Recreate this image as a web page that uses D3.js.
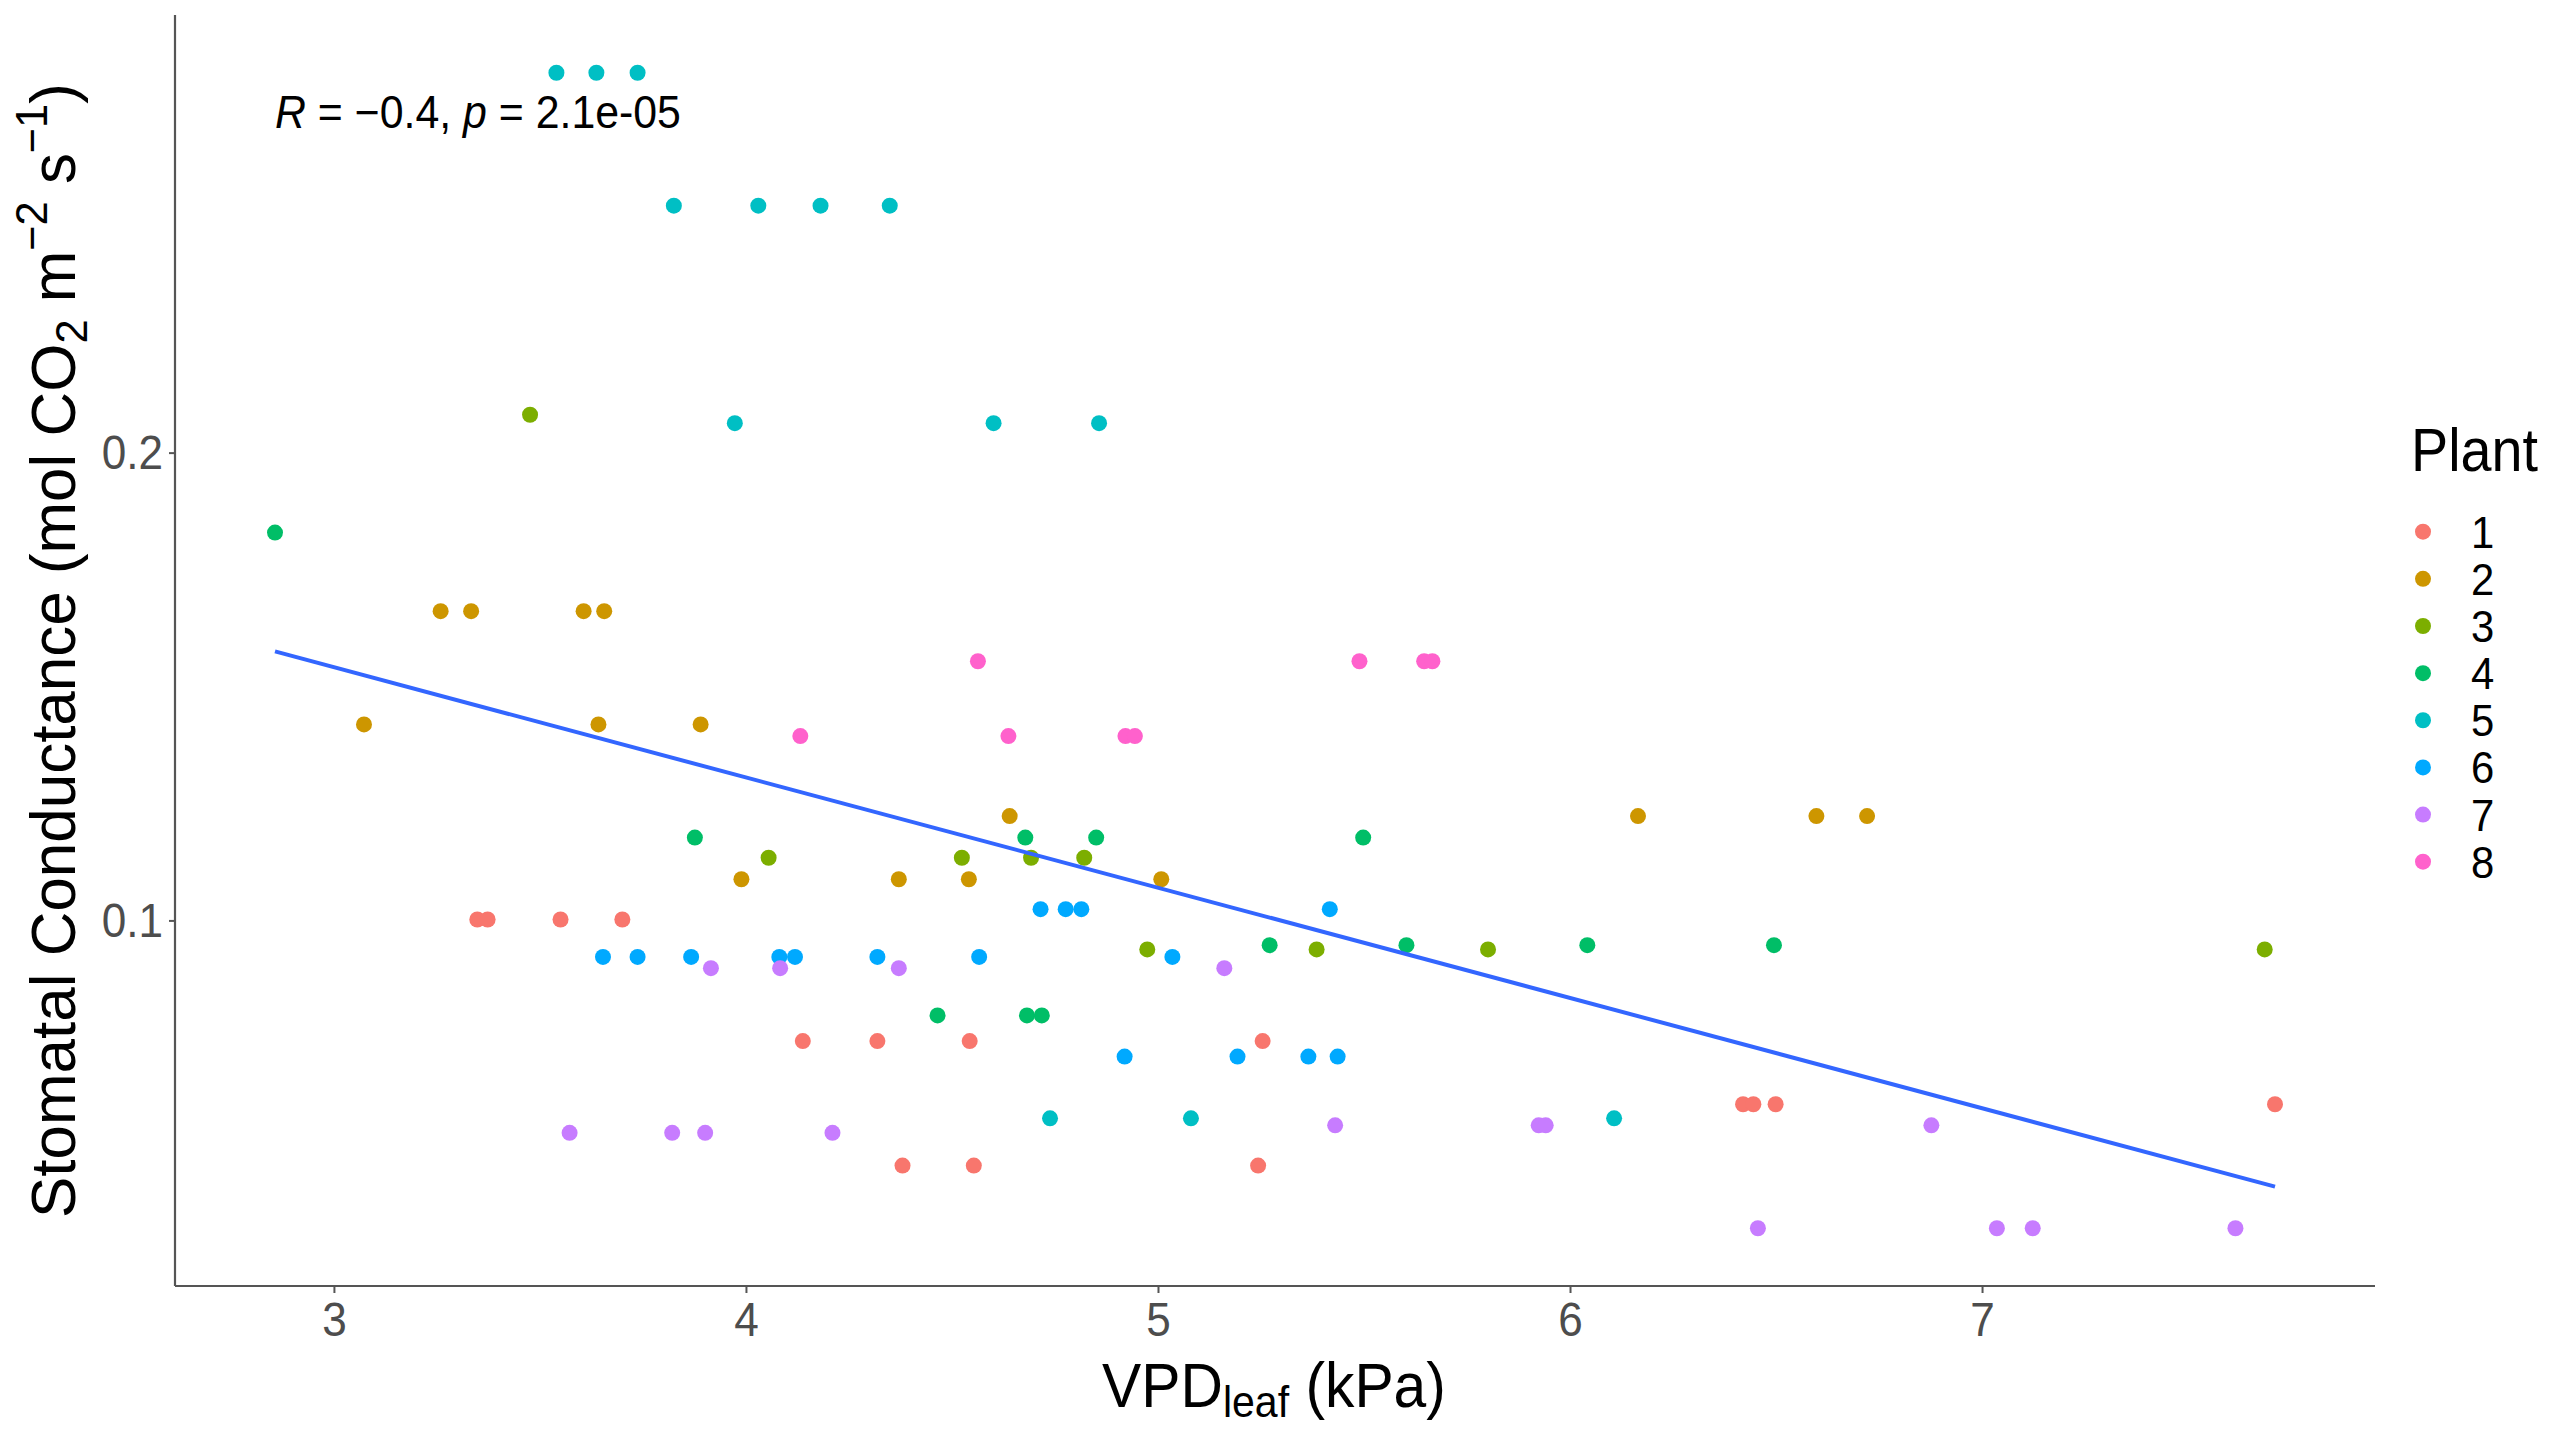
<!DOCTYPE html>
<html>
<head>
<meta charset="utf-8">
<script src="https://cdn.jsdelivr.net/npm/d3@7"></script>
<style>
  body { margin: 0; background: #ffffff; }
  text { font-family: "Liberation Sans", Arial, sans-serif; }
</style>
</head>
<body>
<script>
// data ---------------------------------------------------------------------
var plants = ["1", "2", "3", "4", "5", "6", "7", "8"];
var plantColors = ["#F8766D", "#CD9600", "#7CAE00", "#00BE67", "#00BFC4", "#00A9FF", "#C77CFF", "#FF61CC"];

// plant id of each point
var plantOf = [
  "1","1","1","1","1","1","1","1","1","1","1","1","1","1","1",
  "2","2","2","2","2","2","2","2","2","2","2","2","2","2","2",
  "3","3","3","3","3","3","3","3","3",
  "4","4","4","4","4","4","4","4","4","4","4","4",
  "5","5","5","5","5","5","5","5","5","5","5","5","5",
  "6","6","6","6","6","6","6","6","6","6","6","6","6","6","6","6",
  "7","7","7","7","7","7","7","7","7","7","7","7","7","7","7","7",
  "8","8","8","8","8","8","8","8"
];
// VPD leaf (kPa)
var vpd = [
  3.348, 3.373, 3.550, 3.700, 4.138, 4.319, 4.543, 5.254, 4.380, 4.553, 5.243, 6.420, 6.445, 6.499, 7.711,
  3.259, 3.333, 3.606, 3.656, 3.073, 3.642, 3.890, 3.989, 4.371, 4.541, 5.008, 4.640, 6.165, 6.598, 6.721,
  3.476, 4.055, 4.524, 4.692, 4.821, 4.974, 5.385, 5.801, 7.686,
  2.857, 3.876, 4.678, 4.850, 5.498, 5.271, 5.603, 6.042, 6.495, 4.465, 4.682, 4.718,
  3.540, 3.637, 3.737, 3.825, 4.030, 4.181, 4.349, 3.973, 4.601, 4.857, 4.738, 5.080, 6.107,
  3.653, 3.737, 3.867, 4.081, 4.119, 4.319, 4.566, 5.035, 4.715, 4.776, 4.814, 5.417, 4.919, 5.193, 5.365, 5.436,
  3.915, 4.083, 4.371, 5.161, 3.572, 3.821, 3.901, 4.210, 5.430, 5.924, 5.941, 6.877, 6.456, 7.036, 7.123, 7.615,
  4.563, 5.489, 5.646, 5.666, 4.132, 4.637, 4.921, 4.944
];
// stomatal conductance (mol CO2 m-2 s-1)
var gs = [
  0.1002, 0.1002, 0.1002, 0.1002, 0.0742, 0.0742, 0.0742, 0.0742, 0.0476, 0.0476, 0.0476, 0.0607, 0.0607, 0.0607, 0.0607,
  0.1661, 0.1661, 0.1661, 0.1661, 0.1419, 0.1419, 0.1419, 0.1088, 0.1088, 0.1088, 0.1088, 0.1223, 0.1223, 0.1223, 0.1223,
  0.2081, 0.1134, 0.1134, 0.1134, 0.1134, 0.0938, 0.0938, 0.0938, 0.0938,
  0.1829, 0.1177, 0.1177, 0.1177, 0.1177, 0.0947, 0.0947, 0.0947, 0.0947, 0.0797, 0.0797, 0.0797,
  0.2812, 0.2812, 0.2812, 0.2528, 0.2528, 0.2528, 0.2528, 0.2063, 0.2063, 0.2063, 0.0577, 0.0577, 0.0577,
  0.0922, 0.0922, 0.0922, 0.0922, 0.0922, 0.0922, 0.0922, 0.0922, 0.1024, 0.1024, 0.1024, 0.1024, 0.0709, 0.0709, 0.0709, 0.0709,
  0.0898, 0.0898, 0.0898, 0.0898, 0.0546, 0.0546, 0.0546, 0.0546, 0.0562, 0.0562, 0.0562, 0.0562, 0.0342, 0.0342, 0.0342, 0.0342,
  0.1554, 0.1554, 0.1554, 0.1554, 0.1394, 0.1394, 0.1394, 0.1394
];
// regression line end points (as drawn)
var fitX = [2.857, 7.711];
var fitY = [0.1575, 0.0431];

var xTicks = [3, 4, 5, 6, 7];
var yTicks = [0.1, 0.2];
var corLabel = ["R", " = \u22120.4, ", "p", " = 2.1e-05"];

// svg + panel sizes --------------------------------------------------------
var svgWidth = 2560;
var svgHeight = 1440;
var panel = { left: 175, right: 2375, top: 15, bottom: 1286 };

var svg = d3.select("body")
  .append("svg")
  .attr("width", svgWidth)
  .attr("height", svgHeight);

svg.append("rect")
  .attr("width", svgWidth)
  .attr("height", svgHeight)
  .attr("fill", "#ffffff");

// squeeze text horizontally a little, the original font is narrower
function squeeze(sel, factor) {
  sel.each(function() {
    var w = this.getComputedTextLength();
    d3.select(this).attr("textLength", w * factor).attr("lengthAdjust", "spacingAndGlyphs");
  });
}

// fit a multi-part text to a wanted width by scaling its group along x
function fitWidth(g, txt, width) {
  var w = txt.node().getComputedTextLength();
  var t = g.attr("transform") || "";
  g.attr("transform", t + " scale(" + (width / w) + ",1)");
}

// ggplot style 5% expansion of the data range
function expand(ext) {
  var pad = (ext[1] - ext[0]) * 0.05;
  return [ext[0] - pad, ext[1] + pad];
}

var xScale = d3.scaleLinear()
  .domain(expand(d3.extent(vpd)))
  .range([panel.left, panel.right]);

var yScale = d3.scaleLinear()
  .domain(expand(d3.extent(gs)))
  .range([panel.bottom, panel.top]);

var colorScale = d3.scaleOrdinal()
  .domain(plants)
  .range(plantColors);

var points = vpd.map(function(v, i) {
  return { x: v, y: gs[i], plant: plantOf[i] };
});

// points
svg.append("g")
  .selectAll("circle")
  .data(points)
  .enter()
  .append("circle")
  .attr("cx", function(d) { return xScale(d.x); })
  .attr("cy", function(d) { return yScale(d.y); })
  .attr("r", 8)
  .attr("fill", function(d) { return colorScale(d.plant); });

// fitted line
var fit = fitX.map(function(v, i) { return [v, fitY[i]]; });
svg.append("path")
  .datum(fit)
  .attr("fill", "none")
  .attr("stroke", "#3366FF")
  .attr("stroke-width", 4)
  .attr("d", d3.line()
    .x(function(d) { return xScale(d[0]); })
    .y(function(d) { return yScale(d[1]); }));

// axes
var xAxis = d3.axisBottom(xScale).tickValues(xTicks).tickSize(7).tickPadding(8).tickFormat(d3.format("d"));
var yAxis = d3.axisLeft(yScale).tickValues(yTicks).tickSize(6).tickPadding(6).tickFormat(d3.format(".1f"));

var gx = svg.append("g")
  .attr("transform", "translate(0," + panel.bottom + ")")
  .call(xAxis);
var gy = svg.append("g")
  .attr("transform", "translate(" + panel.left + ",0)")
  .call(yAxis);

[gx, gy].forEach(function(g) {
  g.select(".domain").attr("stroke", "#555555").attr("stroke-width", 2.2);
  g.selectAll(".tick line").attr("stroke", "#555555").attr("stroke-width", 2);
  g.selectAll(".tick text")
    .attr("fill", "#4D4D4D")
    .attr("font-family", "'Liberation Sans', Arial, sans-serif")
    .attr("font-size", 49);
  squeeze(g.selectAll(".tick text"), 0.9);
});
// axis lines span the panel only
gx.select(".domain").attr("d", "M" + panel.left + ",0H" + panel.right);
gy.select(".domain").attr("d", "M0," + panel.bottom + "V" + panel.top);

// x title: VPD_leaf (kPa)
var gxTitle = svg.append("g").attr("transform", "translate(1102,1407)");
var xTitle = gxTitle.append("text")
  .attr("fill", "#000000")
  .attr("font-size", 63);
xTitle.append("tspan").text("VPD");
xTitle.append("tspan").attr("font-size", 44).attr("dy", 10).text("leaf");
xTitle.append("tspan").attr("dy", -10).text(" (kPa)");
fitWidth(gxTitle, xTitle, 344);

// y title: Stomatal Conductance (mol CO2 m-2 s-1)
var gyTitle = svg.append("g").attr("transform", "translate(75,1218) rotate(-90)");
var yTitle = gyTitle.append("text")
  .attr("fill", "#000000")
  .attr("font-size", 63);
yTitle.append("tspan").text("Stomatal Conductance (mol CO");
yTitle.append("tspan").attr("font-size", 44).attr("dy", 12).text("2");
yTitle.append("tspan").attr("dy", -12).text(" m");
yTitle.append("tspan").attr("font-size", 44).attr("dy", -28).text("\u22122");
yTitle.append("tspan").attr("dy", 28).text(" s");
yTitle.append("tspan").attr("font-size", 44).attr("dy", -28).text("\u22121");
yTitle.append("tspan").attr("dy", 28).text(")");
fitWidth(gyTitle, yTitle, 1135);

// correlation label, at the left of the data, below the top row
var gCor = svg.append("g")
  .attr("transform", "translate(" + xScale(d3.min(vpd)) + "," + (yScale(d3.max(gs)) + 55) + ")");
var cor = gCor.append("text")
  .attr("fill", "#000000")
  .attr("font-size", 46);
corLabel.forEach(function(s, i) {
  cor.append("tspan")
    .attr("font-style", (i % 2 === 0) ? "italic" : "normal")
    .text(s);
});
fitWidth(gCor, cor, 406);

// legend
var legend = svg.append("g");
legend.append("text")
  .attr("x", 2411)
  .attr("y", 471)
  .attr("font-size", 62)
  .attr("fill", "#000000")
  .attr("textLength", 127)
  .attr("lengthAdjust", "spacingAndGlyphs")
  .text("Plant");

var keyY = d3.scalePoint().domain(plants).range([531.7, 861.7]);

legend.selectAll("circle")
  .data(plants)
  .enter()
  .append("circle")
  .attr("cx", 2423)
  .attr("cy", function(d) { return keyY(d); })
  .attr("r", 8)
  .attr("fill", function(d) { return colorScale(d); });

var keyText = legend.selectAll("text.key")
  .data(plants)
  .enter()
  .append("text")
  .attr("class", "key")
  .attr("x", 2471)
  .attr("y", function(d) { return keyY(d) + 16; })
  .attr("font-size", 44)
  .attr("fill", "#000000")
  .text(function(d) { return d; });
squeeze(keyText, 0.95);
</script>
</body>
</html>
